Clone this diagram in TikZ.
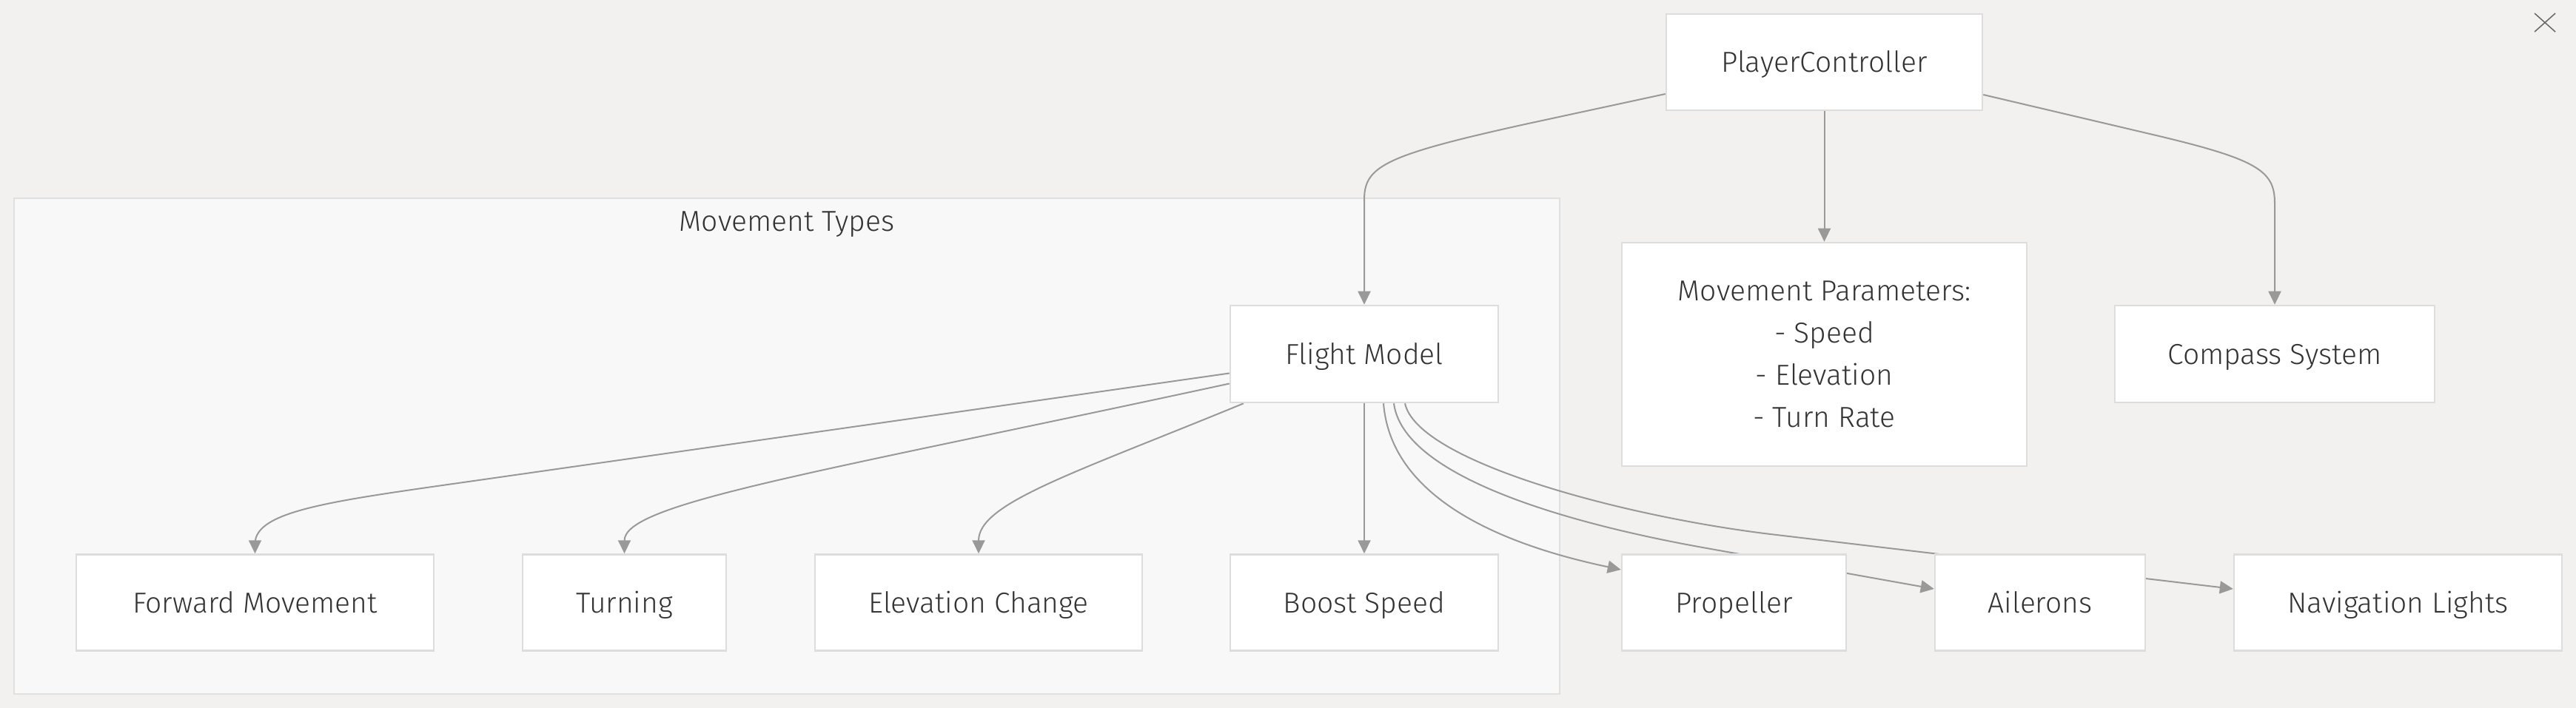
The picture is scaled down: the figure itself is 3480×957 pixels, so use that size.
\documentclass[tikz,border=0pt]{standalone}
\usepackage{fontspec}
\setmainfont{Fira Sans Light}
\usetikzlibrary{arrows.meta}
\definecolor{bgc}{RGB}{242,241,239}
\definecolor{clfill}{RGB}{248,248,248}
\definecolor{clline}{RGB}{224,224,224}
\definecolor{boxline}{RGB}{221,221,221}
\definecolor{edgec}{RGB}{153,153,153}
\definecolor{txt}{RGB}{51,51,51}
\pgfdeclarelayer{bglayer}
\pgfdeclarelayer{edgelayer}
\pgfsetlayers{bglayer,edgelayer,main}
\begin{document}
\begin{tikzpicture}[x=1pt,y=-1pt,
  box/.style={draw=boxline, line width=2.5pt, fill=white, inner sep=0pt, text=txt,
    font=\fontsize{39}{57}\selectfont, align=center},
  one/.style={text height=33pt, text depth=5pt},
  cluster/.style={draw=clline, line width=2.5pt, fill=clfill, inner sep=0pt},
  conn/.style={draw=edgec, line width=2pt, -{Triangle[length=18pt,width=17pt]}},
]
\useasboundingbox (0,0) rectangle (3480,957);
\begin{pgfonlayer}{bglayer}
\fill[bgc] (0,0) rectangle (3480,957);
\node[cluster, minimum width=2088pt, minimum height=670pt] (mt) at (1063,603) {};
\node[text=txt, font=\fontsize{39}{57}\selectfont, inner sep=0pt, text height=33pt, text depth=5pt] (mtt) at (1063,299) {Movement Types};
\end{pgfonlayer}

% nodes
\node[box, one, minimum width=427pt, minimum height=130pt] (pc) at (2464.5,84) {PlayerController};
\node[box, minimum width=547pt, minimum height=302pt] (mp) at (2464.5,479) {Movement Parameters:\\- Speed\\- Elevation\\- Turn Rate};
\node[box, one, minimum width=432pt, minimum height=131pt] (cs) at (3073,478.5) {Compass System};
\node[box, one, minimum width=362pt, minimum height=131pt] (fm) at (1843,478.5) {Flight Model};
\node[box, one, minimum width=483pt, minimum height=130pt] (fw) at (344.5,814.5) {Forward Movement};
\node[box, one, minimum width=275pt, minimum height=130pt] (tu) at (843.5,814.5) {Turning};
\node[box, one, minimum width=442pt, minimum height=130pt] (ec) at (1322,814.5) {Elevation Change};
\node[box, one, minimum width=362pt, minimum height=130pt] (bs) at (1843,814.5) {Boost Speed};
\node[box, one, minimum width=303pt, minimum height=130pt] (pr) at (2342.5,814.5) {Propeller};
\node[box, one, minimum width=284pt, minimum height=130pt] (ai) at (2756,814.5) {Ailerons};
\node[box, one, minimum width=443pt, minimum height=130pt] (nl) at (3239.5,814.5) {Navigation Lights};

% close icon
\draw[color=black!60, line width=1.5pt] (3424,18) -- (3452,43) (3452,18) -- (3424,43);

\begin{pgfonlayer}{edgelayer}
\draw[conn] ([yshift=-43pt]pc.west) -- (2060,168) .. controls (1870,210) and (1843,225) .. (1843,270) -- (fm.north);
\draw[conn] (pc.south) -- (mp.north);
\draw[conn] ([yshift=-44pt]pc.east) -- (2900,180) .. controls (3050,215) and (3073,230) .. (3073,275) -- (cs.north);
\draw[conn] ([yshift=-26pt]fm.west) -- (640,650) .. controls (450,677) and (344.5,690) .. (344.5,735) -- (fw.north);
\draw[conn] ([yshift=-40pt]fm.west) .. controls (1100,640) and (843.5,680) .. (tu.north);
\draw[conn] ([xshift=-163pt]fm.south) .. controls (1450,640) and (1322,680) .. (ec.north);
\draw[conn] (fm.south) -- (bs.north);
\draw[conn] ([xshift=26pt]fm.south) .. controls (1878,660) and (2000,730) .. ([yshift=44.5pt]pr.west);
\draw[conn] ([xshift=40pt]fm.south) .. controls (1895,640) and (2100,704) .. (2300,740) -- ([yshift=18.5pt]ai.west);
\draw[conn] ([xshift=55pt]fm.south) .. controls (1915,625) and (2200,700) .. (2400,723) -- ([yshift=18.5pt]nl.west);
\end{pgfonlayer}
\end{tikzpicture}
\end{document}
